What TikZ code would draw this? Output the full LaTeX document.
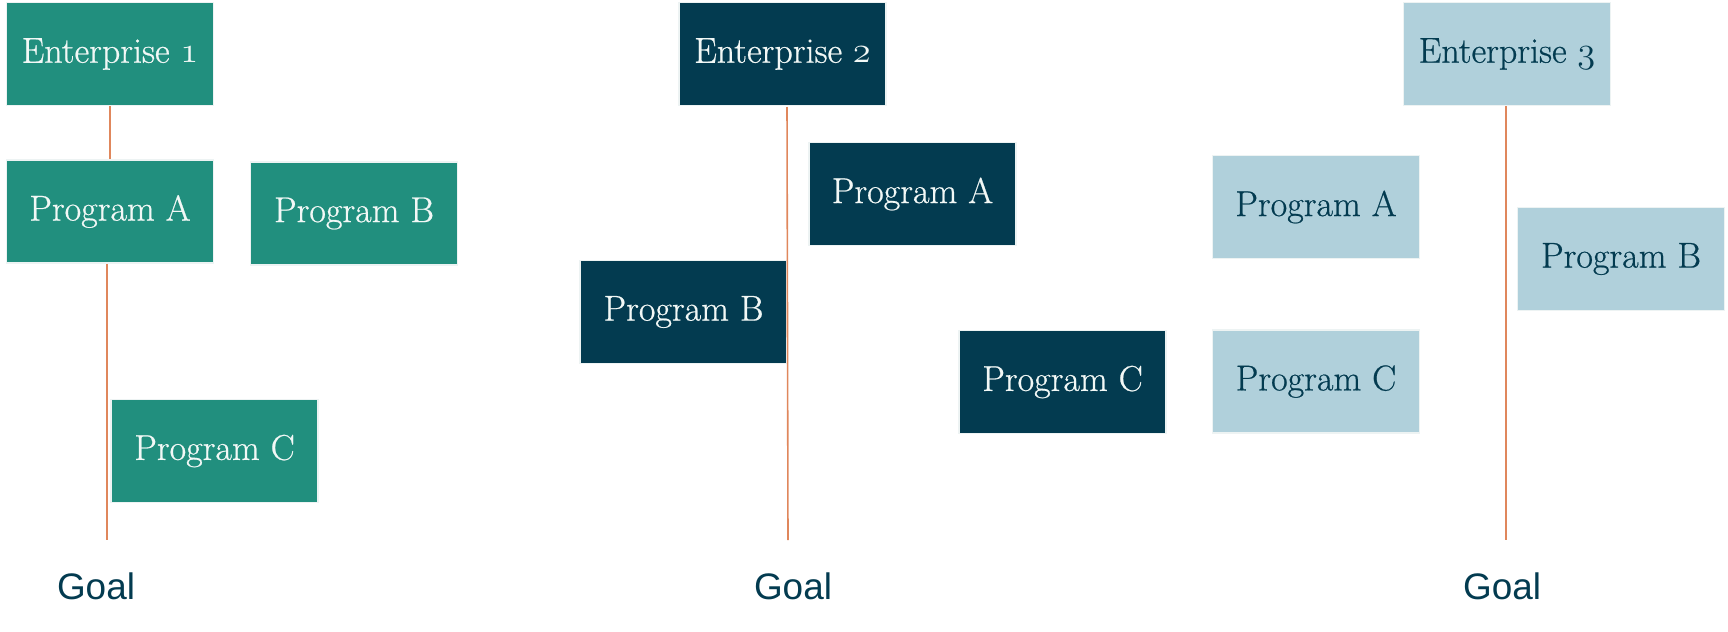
\documentclass[tikz,border=0pt]{standalone}
\usepackage{fontspec}
\newfontfamily\goalfont{Liberation Sans}
\newfontfamily\boxfont[FakeBold=0.6]{Latin Modern Roman}
\definecolor{entgreen}{HTML}{218F7E}
\definecolor{entnavy}{HTML}{033B50}
\definecolor{entlight}{HTML}{B0D0DB}
\definecolor{boxedge}{HTML}{EDF3F3}
\definecolor{paletext}{HTML}{F2F8F6}
\definecolor{goalline}{HTML}{E0875C}
\newcommand\osn[1]{{\usefont{OML}{cmm}{m}{it}#1}}
\tikzset{
  prog/.style={rectangle, draw=boxedge, line width=1pt, inner sep=0pt,
    minimum width=4.14cm, minimum height=2.06cm, font=\boxfont\fontsize{20.5}{23}\selectfont},
  greenbox/.style={prog, fill=entgreen, text=paletext},
  navybox/.style={prog, fill=entnavy, text=paletext},
  lightbox/.style={prog, fill=entlight, text=entnavy},
  goalline/.style={draw=goalline, line width=0.9pt},
  goal/.style={font=\goalfont\fontsize{21}{24}\selectfont, text=entnavy}
}
\begin{document}
\begin{tikzpicture}[x=0.02cm, y=-0.02cm]
        \useasboundingbox (0,0) rectangle (1728,632);
        % Enterprise 1
        \node (e1)  at (110,54)    [greenbox] {Enterprise \osn{1}};
        \node (pa1) at (110,211.5) [greenbox] {Program A};
        \node (pb1) at (354,213.5) [greenbox] {Program B};
        \node (pc1) at (214.5,451) [greenbox] {Program C};
        \coordinate (end1) at (107,540);
        \node (g1)  at (96,586)    [goal] {Goal};

        % Enterprise 2
        \node (e2)  at (782.5,54)   [navybox] {Enterprise \osn{2}};
        \node (pa2) at (912.5,194)  [navybox] {Program A};
        \node (pb2) at (683.5,312)  [navybox] {Program B};
        \node (pc2) at (1062.5,382) [navybox] {Program C};
        \coordinate (top2) at (787,107);
        \coordinate (end2) at (788,540);
        \node (g2)  at (793,586)    [goal] {Goal};

        % Enterprise 3
        \node (e3)  at (1507,54)    [lightbox] {Enterprise \osn{3}};
        \node (pa3) at (1316,207)   [lightbox] {Program A};
        \node (pb3) at (1621,259)   [lightbox] {Program B};
        \node (pc3) at (1316,381.5) [lightbox] {Program C};
        \coordinate (end3) at (1506,540);
        \node (g3)  at (1502,586)   [goal] {Goal};

        % Edges
        \draw[goalline] (e1) -- (pa1);
        \draw[goalline] (pa1.south -| end1) -- (end1);
        \draw[goalline] (top2) -- (end2);
        \draw[goalline] (e3.south -| end3) -- (end3);
      \end{tikzpicture}
\end{document}
